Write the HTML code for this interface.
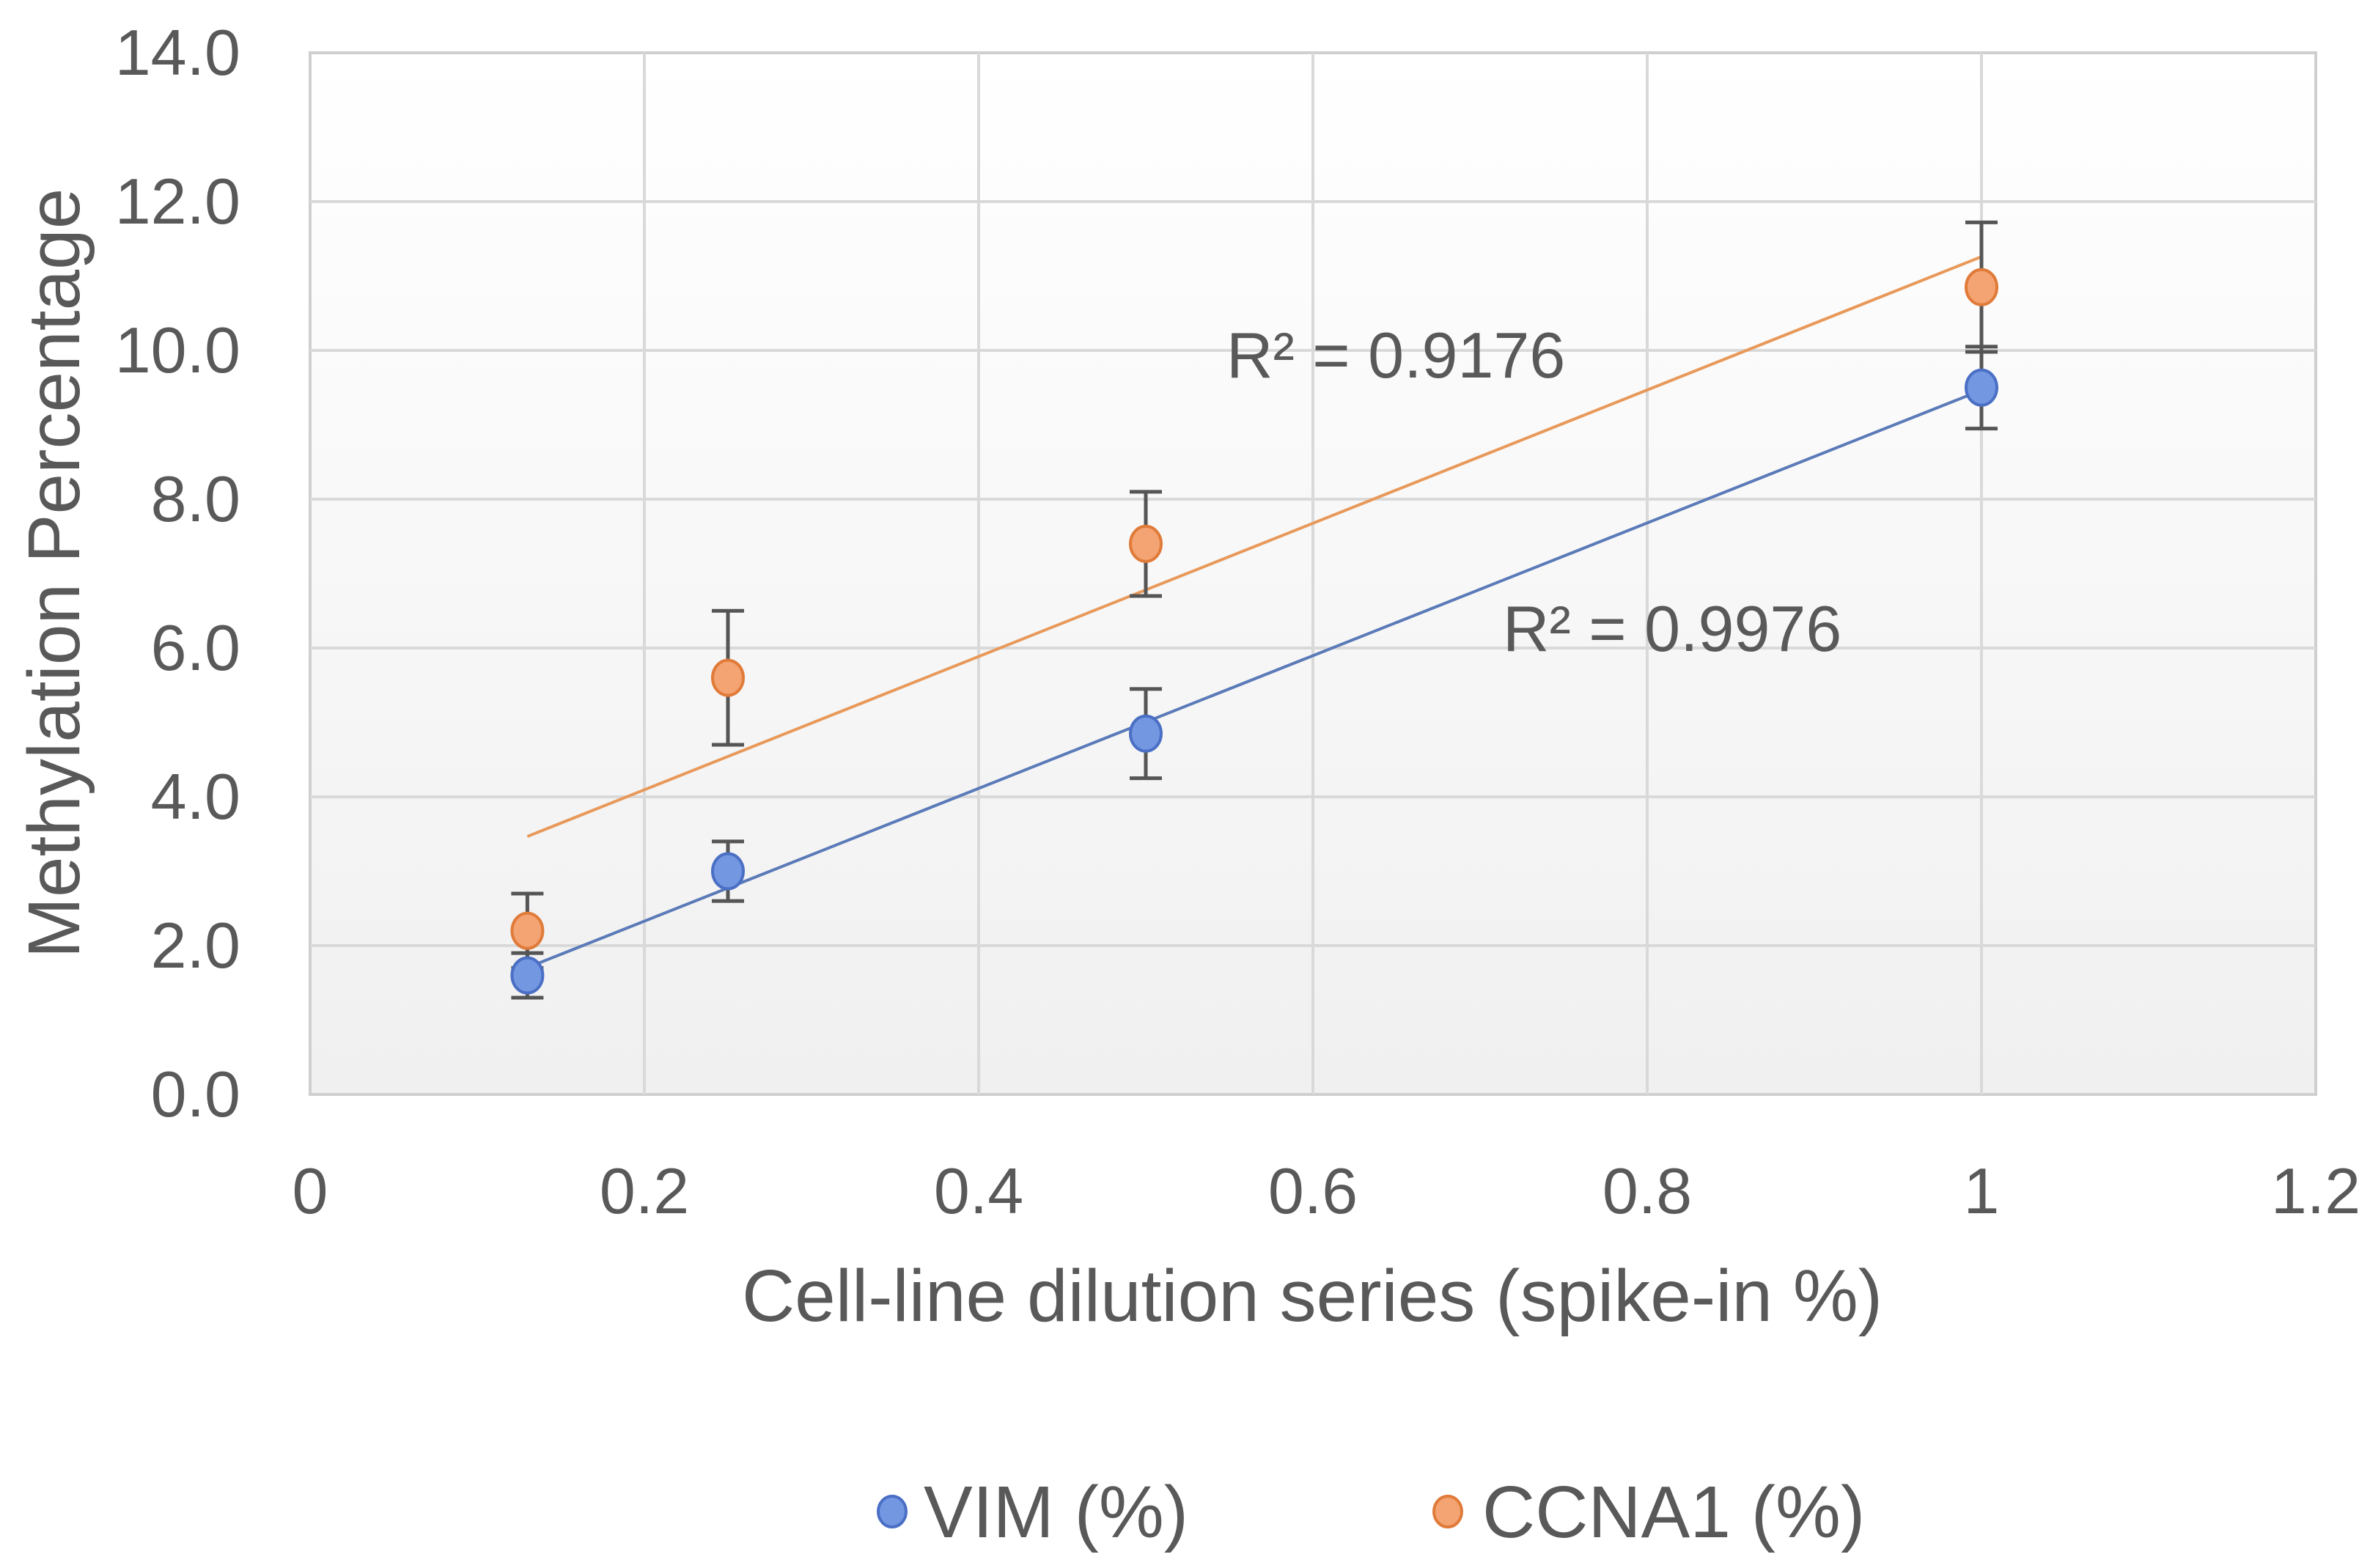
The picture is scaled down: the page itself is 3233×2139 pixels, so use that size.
<!DOCTYPE html>
<html><head><meta charset="utf-8"><style>
html,body{margin:0;padding:0;background:#fff;}
svg{display:block;font-family:"Liberation Sans",sans-serif;}
</style></head><body>
<svg id="chart" width="3233" height="2139" viewBox="0 0 3233 2139" xmlns="http://www.w3.org/2000/svg">
<defs>
<linearGradient id="bg" x1="0" y1="0" x2="0" y2="1"><stop offset="0" stop-color="#ffffff"/><stop offset="1" stop-color="#f0f0f0"/></linearGradient>
</defs>
<rect x="423" y="72" width="2736" height="1421" fill="url(#bg)" stroke="#cfcfcf" stroke-width="4"/>
<g id="grid"></g>
<g id="ticks"></g>
<g id="trend"></g>
<g id="errs"></g>
<g id="marks"></g>
<text x="1673" y="515" font-size="88" fill="#595959">R² = 0.9176</text>
<text x="2050" y="888" font-size="88" fill="#595959">R² = 0.9976</text>
<text x="1790" y="1802" font-size="100" fill="#595959" text-anchor="middle">Cell-line dilution series (spike-in %)</text>
<text transform="translate(108,782) rotate(-90)" font-size="100" fill="#595959" text-anchor="middle">Methylation Percentage</text>
<g>
<ellipse cx="1217" cy="2062" rx="19" ry="21" fill="#7497e2" stroke="#4a6fc4" stroke-width="4"/>
<text x="1260" y="2097" font-size="100" fill="#595959">VIM (%)</text>
<ellipse cx="1975" cy="2062" rx="19" ry="21" fill="#f4a373" stroke="#e07b39" stroke-width="4"/>
<text x="2022" y="2097" font-size="100" fill="#595959">CCNA1 (%)</text>
</g>
</svg>
<script>
const xValues=[0.13,0.25,0.5,1];
const vimValues=[1.6,3.0,4.85,9.5];
const vimErrors=[0.3,0.4,0.6,0.55];
const ccnaValues=[2.2,5.6,7.4,10.85];
const ccnaErrors=[0.5,0.9,0.7,0.87];
const xTicks=[0,0.2,0.4,0.6,0.8,1,1.2];
const xTickLabels=["0","0.2","0.4","0.6","0.8","1","1.2"];
const yTicks=[0,2,4,6,8,10,12,14];
const yTickLabels=["0.0","2.0","4.0","6.0","8.0","10.0","12.0","14.0"];

const L=423,R=3159,T=72,B=1493;
const sx=v=>L+(v/1.2)*(R-L);
const sy=v=>B-(v/14)*(B-T);
const NS="http://www.w3.org/2000/svg";
function mk(parent,tag,attrs){const e=document.createElementNS(NS,tag);for(const k in attrs)e.setAttribute(k,attrs[k]);document.getElementById(parent).appendChild(e);return e;}

xTicks.forEach((t,i)=>{
  if(i>0&&i<xTicks.length-1){const g=mk('grid','line',{x1:sx(t),x2:sx(t),y1:T,y2:B,stroke:'#d9d9d9','stroke-width':4});
  
  }
  const tx=mk('ticks','text',{x:sx(t),y:1655,'font-size':88,fill:'#595959','text-anchor':'middle'});
  tx.textContent=xTickLabels[i];
  
  
});
yTicks.forEach((t,i)=>{
  if(i>0&&i<yTicks.length-1){const g=mk('grid','line',{x1:L,x2:R,y1:sy(t),y2:sy(t),stroke:'#d9d9d9','stroke-width':4});
  
  }
  const tx=mk('ticks','text',{x:328,y:sy(t)+30,'font-size':88,fill:'#595959','text-anchor':'end'});
  tx.textContent=yTickLabels[i];
  
  
});

function fit(xs,ys){const n=xs.length;const mx=xs.reduce((a,b)=>a+b)/n,my=ys.reduce((a,b)=>a+b)/n;let sxx=0,sxy=0;xs.forEach((x,i)=>{sxx+=(x-mx)**2;sxy+=(x-mx)*(ys[i]-my);});const m=sxy/sxx;return [m,my-m*mx];}
function series(vals,errs,fill,stroke,line,name){
  const [m,b]=fit(xValues,vals);
  const x0=Math.min(...xValues),x1=Math.max(...xValues);
  const tl=mk('trend','line',{x1:sx(x0),y1:sy(m*x0+b),x2:sx(x1),y2:sy(m*x1+b),stroke:line,'stroke-width':4});
  
  
  xValues.forEach((x,i)=>{
    const cx=sx(x),hi=sy(vals[i]+errs[i]),lo=sy(vals[i]-errs[i]);
    const e=mk('errs','path',{d:`M${cx} ${hi}V${lo}M${cx-22} ${hi}H${cx+22}M${cx-22} ${lo}H${cx+22}`,stroke:'#555','stroke-width':5,fill:'none'});
    
    
    const p=mk('marks','ellipse',{cx:cx,cy:sy(vals[i]),rx:21,ry:24,fill:fill,stroke:stroke,'stroke-width':4});
    
    
  });
}
series(ccnaValues,ccnaErrors,'#f4a373','#e07b39','#e8995a','ccna1');
series(vimValues,vimErrors,'#7497e2','#4a6fc4','#5a7ab8','vim');
</script>
</body></html>
